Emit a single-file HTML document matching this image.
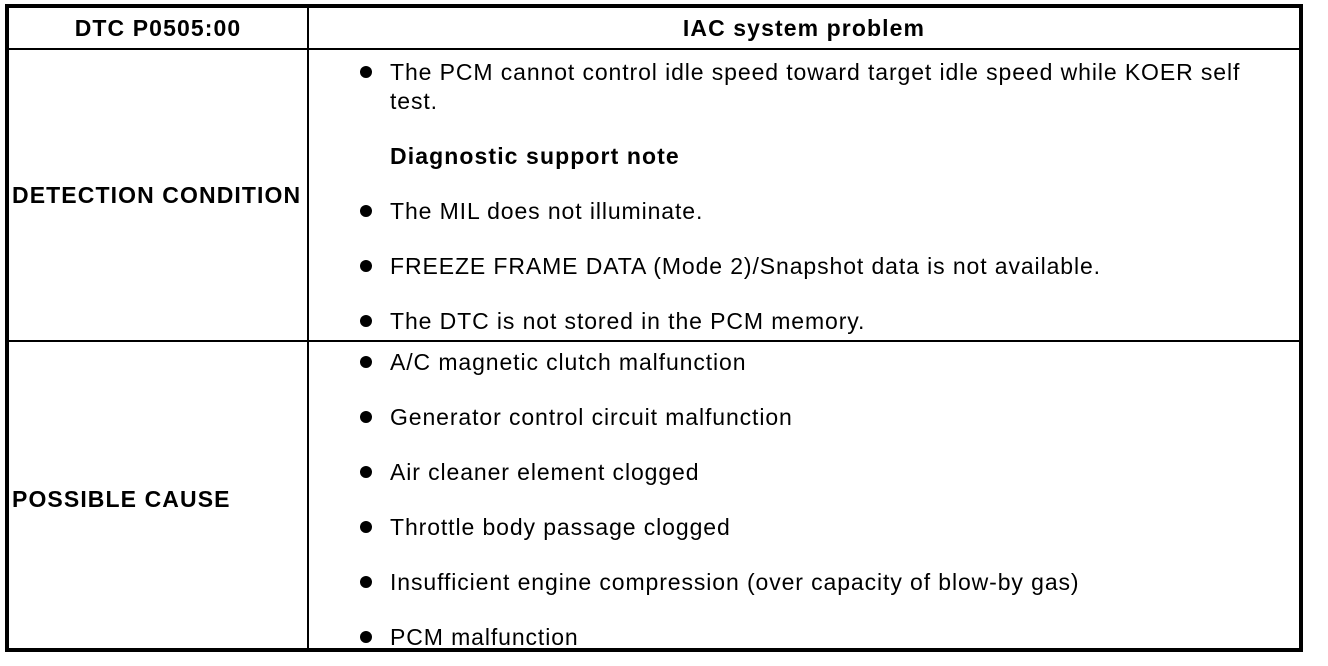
<!DOCTYPE html>
<html><head><style>
body{margin:0;width:1328px;height:666px;background:#fff;position:relative;overflow:hidden;font-family:"Liberation Sans",Arial,sans-serif;font-size:23px;letter-spacing:0.9px;color:#000}
.b{position:absolute;background:#000}
.t{position:absolute;white-space:nowrap;line-height:24px}
.bold{font-weight:bold;letter-spacing:1.1px}
.dot{position:absolute;width:12px;height:12px;border-radius:50%;background:#000}
</style></head><body>
<div class="b" style="left:5px;top:4px;width:1298px;height:4px"></div>
<div class="b" style="left:5px;top:648px;width:1298px;height:4px"></div>
<div class="b" style="left:5px;top:4px;width:4px;height:648px"></div>
<div class="b" style="left:1299px;top:4px;width:4px;height:648px"></div>
<div class="b" style="left:9px;top:48px;width:1290px;height:2px"></div>
<div class="b" style="left:9px;top:340px;width:1290px;height:2px"></div>
<div class="b" style="left:307px;top:8px;width:2px;height:640px"></div>

<div class="t bold" style="left:9px;width:298px;text-align:center;top:16px">DTC P0505:00</div>
<div class="t bold" style="left:309px;width:990px;text-align:center;top:16px">IAC system problem</div>
<div class="t bold" style="left:12px;top:183px">DETECTION CONDITION</div>
<div class="t bold" style="left:12px;top:487px">POSSIBLE CAUSE</div>

<div class="dot" style="left:360px;top:66px"></div>
<div class="t" style="left:390px;top:60px">The PCM cannot control idle speed toward target idle speed while KOER self</div>
<div class="t" style="left:390px;top:89px">test.</div>
<div class="t bold" style="left:390px;top:144px">Diagnostic support note</div>
<div class="dot" style="left:360px;top:205px"></div>
<div class="t" style="left:390px;top:199px">The MIL does not illuminate.</div>
<div class="dot" style="left:360px;top:260px"></div>
<div class="t" style="left:390px;top:254px">FREEZE FRAME DATA (Mode 2)/Snapshot data is not available.</div>
<div class="dot" style="left:360px;top:315px"></div>
<div class="t" style="left:390px;top:309px">The DTC is not stored in the PCM memory.</div>

<div class="dot" style="left:360px;top:356px"></div>
<div class="t" style="left:390px;top:350px">A/C magnetic clutch malfunction</div>
<div class="dot" style="left:360px;top:411px"></div>
<div class="t" style="left:390px;top:405px">Generator control circuit malfunction</div>
<div class="dot" style="left:360px;top:466px"></div>
<div class="t" style="left:390px;top:460px">Air cleaner element clogged</div>
<div class="dot" style="left:360px;top:521px"></div>
<div class="t" style="left:390px;top:515px">Throttle body passage clogged</div>
<div class="dot" style="left:360px;top:576px"></div>
<div class="t" style="left:390px;top:570px">Insufficient engine compression (over capacity of blow-by gas)</div>
<div class="dot" style="left:360px;top:631px"></div>
<div class="t" style="left:390px;top:625px">PCM malfunction</div>
</body></html>
